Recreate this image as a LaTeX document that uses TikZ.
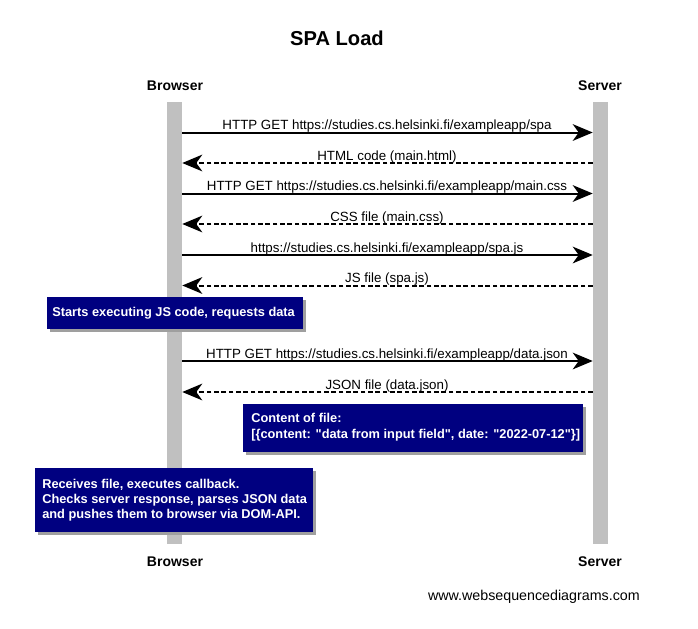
\documentclass[tikz,border=0pt]{standalone}
\usepackage{fontspec}
\setmainfont{Liberation Sans}[Ligatures=TeXOff]
\usetikzlibrary{arrows.meta,shadows}
\definecolor{notebg}{HTML}{000080}
\definecolor{barc}{HTML}{C0C0C0}
\tikzset{
  bar/.style={fill=barc, draw=none, minimum width=11.25pt, minimum height=331.5pt, inner sep=0pt},
  actor/.style={font=\bfseries\fontsize{10.5}{12}\selectfont, inner sep=0pt},
  msg/.style={line width=1.5pt, -{Stealth[length=15pt,width=12.5pt,inset=4.5pt]}},
  reply/.style={msg, dash pattern=on 3.5pt off 2pt},
  lbl/.style={font=\fontsize{10}{12}\selectfont, inner sep=0pt, anchor=base},
  notebox/.style={fill=notebg, draw=none, anchor=north west, inner sep=0pt,
    drop shadow={shadow xshift=2pt, shadow yshift=-2pt, fill=gray!75, opacity=1}},
  notetext/.style={text=white, font=\bfseries\fontsize{9.6}{11.4}\selectfont,
    align=left, anchor=west, inner sep=0pt}
}
\begin{document}
\begin{tikzpicture}[x=0.75pt,y=-0.75pt]
\useasboundingbox (0,0) rectangle (698,628);
\node[font=\bfseries\fontsize{15.1}{18}\selectfont, inner sep=0pt] (title) at (337,38) {SPA Load};
\node[actor] (bt) at (175,86) {Browser};
\node[actor] (st) at (600,86) {Server};
\node[actor] (bb) at (175,562) {Browser};
\node[actor] (sb) at (600,562) {Server};
\node[bar] (bl) at (174.5,323) {};
\node[bar] (sl) at (600.5,323) {};
% messages
\draw[msg] (bl.east |- 0,132.5) -- (sl.west |- 0,132.5);
\node[lbl] (m1) at (387,129.5) {HTTP GET https://studies.cs.helsinki.fi/exampleapp/spa};
\draw[reply] (sl.west |- 0,163) -- (bl.east |- 0,163);
\node[lbl] (m2) at (387,160) {HTML code (main.html)};
\draw[msg] (bl.east |- 0,193.5) -- (sl.west |- 0,193.5);
\node[lbl] (m3) at (387,190.5) {HTTP GET https://studies.cs.helsinki.fi/exampleapp/main.css};
\draw[reply] (sl.west |- 0,224) -- (bl.east |- 0,224);
\node[lbl] (m4) at (387,221) {CSS file (main.css)};
\draw[msg] (bl.east |- 0,255) -- (sl.west |- 0,255);
\node[lbl] (m5) at (387,252) {https://studies.cs.helsinki.fi/exampleapp/spa.js};
\draw[reply] (sl.west |- 0,285.5) -- (bl.east |- 0,285.5);
\node[lbl] (m6) at (387,282.5) {JS file (spa.js)};
% note 1
\node[notebox, minimum width=192pt, minimum height=24pt] (n1) at (47,297) {};
\node[notetext] (t1) at ([xshift=3.75pt]n1.west) {Starts executing JS code, requests data};
\draw[msg] (bl.east |- 0,361) -- (sl.west |- 0,361);
\node[lbl] (m7) at (387,358) {HTTP GET https://studies.cs.helsinki.fi/exampleapp/data.json};
\draw[reply] (sl.west |- 0,392) -- (bl.east |- 0,392);
\node[lbl] (m8) at (387,389) {JSON file (data.json)};
% note 2
\node[notebox, minimum width=255pt, minimum height=36pt] (n2) at (243,404) {};
\node[notetext] (t2) at ([xshift=6pt,yshift=0.8pt]n2.west) {Content of file:\\\relax [\{content: "data from input field", date: "2022-07-12"\}]};
% note 3
\node[notebox, minimum width=208.5pt, minimum height=48pt] (n3) at (35,468) {};
\node[notetext] (t3) at ([xshift=5.25pt]n3.west) {Receives file, executes callback.\\Checks server response, parses JSON data\\and pushes them to browser via DOM-API.};
\node[font=\fontsize{10.7}{12}\selectfont, inner sep=0pt, anchor=east] (wsd) at (640,597) {www.websequencediagrams.com};
\end{tikzpicture}
\end{document}
